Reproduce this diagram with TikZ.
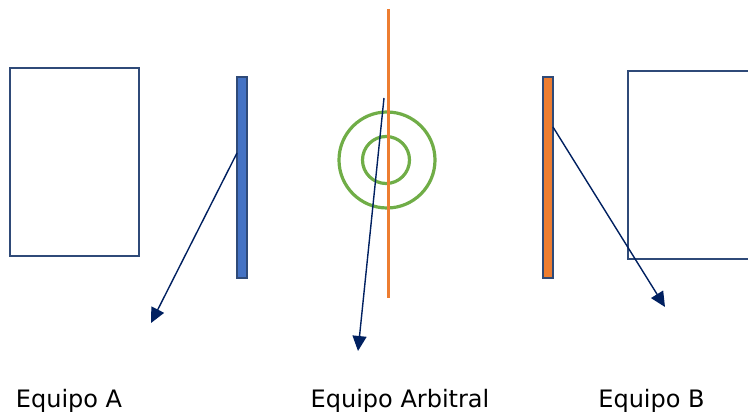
\documentclass[tikz,border=0pt]{standalone}
\usepackage{fontspec}
\setmainfont{DejaVu Sans}
\usetikzlibrary{arrows.meta}
\definecolor{navy}{HTML}{002060}
\definecolor{frame}{HTML}{2F4A78}
\definecolor{bluefill}{HTML}{4472C4}
\definecolor{orangefill}{HTML}{ED7D31}
\definecolor{greenline}{HTML}{70AD47}
\tikzset{
  box/.style={draw=frame, line width=2.5pt, fill=white, inner sep=0pt},
  bar/.style={draw=frame, line width=2pt, inner sep=0pt},
  pointer/.style={draw=navy, line width=1.4pt, -{Triangle[length=15pt,width=14pt]}},
  label/.style={anchor=base, font=\fontsize{24pt}{29pt}\selectfont, text=black, inner sep=0pt},
  ring/.style={draw=greenline, line width=3.2pt},
}
\begin{document}
\begin{tikzpicture}[x=1pt, y=-1pt]
\clip (0,0) rectangle (748,414);
% left team box
\node[box, minimum width=129pt, minimum height=188pt] (boxA) at (74.5,162) {};
% right team box (cut off)
\node[box, minimum width=180pt, minimum height=188pt] (boxB) at (718,165) {};
% bars
\node[bar, fill=bluefill, minimum width=10pt, minimum height=201pt] (barA) at (241.5,177.5) {};
\node[bar, fill=orangefill, minimum width=10pt, minimum height=201pt] (barB) at (547.5,177.5) {};
% referee circles and line
\node[ring, circle, minimum size=96pt, inner sep=0pt] (outer) at (387,160) {};
\node[ring, circle, minimum size=47pt, inner sep=0pt] (inner) at (386,160) {};
\coordinate (lineTop) at (388,9);
\coordinate (lineBot) at (388,298);
\draw[draw=orangefill, line width=3pt] (lineTop) -- (lineBot);
% arrows
\coordinate (sA) at (237,153);
\coordinate (eA) at (151,323);
\coordinate (sR) at (384,98);
\coordinate (eR) at (358,351);
\coordinate (sB) at (553,127);
\coordinate (eB) at (665,307);
\draw[pointer] (sA) -- (eA);
\draw[pointer] (sR) -- (eR);
\draw[pointer] (sB) -- (eB);
% labels
\node[label] (tA) at (69,408) {Equipo A};
\node[label] (tR) at (400,408) {Equipo Arbitral};
\node[label] (tB) at (651.5,408) {Equipo B};
\end{tikzpicture}
\end{document}
